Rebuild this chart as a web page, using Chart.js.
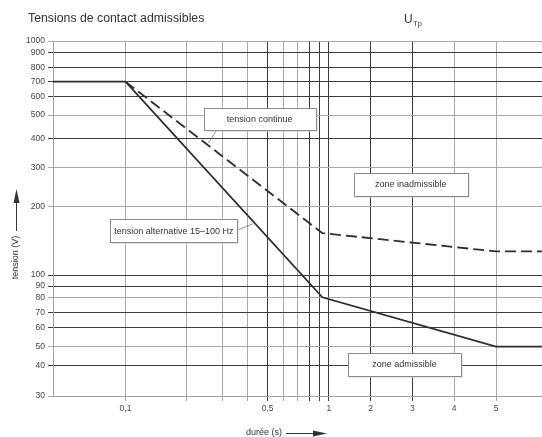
<!DOCTYPE html>
<html>
	<head>
		<title>Tensions de contact admissibles</title>
		<meta charset="utf-8"/>
		<script src="https://cdn.jsdelivr.net/npm/chart.js@4/dist/chart.umd.min.js"></script>
		<style>
			html, body { margin: 0; padding: 0; background: #fff; }
			canvas { display: block; }
		</style>
	</head>
	<body>
		<canvas id="utp_chart" width="542" height="437"></canvas>
		<script>
			// ticks
			const dureeTicks = [0.1, 0.2, 0.3, 0.4, 0.5, 0.6, 0.7, 0.8, 0.9, 1, 2, 3, 4, 5];
			const dureeLabels = { 0.1: '0,1', 0.5: '0,5', 1: '1', 2: '2', 3: '3', 4: '4', 5: '5' };
			const tensionTicks = [30, 40, 50, 60, 70, 80, 90, 100, 200, 300, 400, 500, 600, 700, 800, 900, 1000];

			// courbes
			const dureeAlternative = [0.044, 0.1, 0.93, 5, 6.1];
			const tensionAlternative = [700, 700, 80, 50, 50];
			const dureeContinue = [0.1, 0.93, 5, 6.1];
			const tensionContinue = [700, 153, 127, 127];

			// lignes foncées de la grille
			const darkX = [0.5, 0.8, 0.9, 1, 2, 3];
			const darkY = [40, 60, 70, 90, 100, 400, 600, 700, 800, 900];

			const FONT = '"Liberation Sans", Arial, sans-serif';
			const DECADE = 203;		// px par décade (0,1 .. 1)
			const UNIT = 41.75;		// px par seconde (1 .. 5)

			// hauteur relative de chaque graduation de tensionTicks (papier log imprimé, pas tout à fait régulier)
			const tensionEchelle = [0, 30.7, 49.3, 68.3, 83.3, 98.7, 110, 121, 189.3, 228.3, 257.7, 281, 299.3, 314.3, 328.7, 343.3, 355];

			// échelle mixte : log jusqu'à 1 s, linéaire après
			class DureeScale extends Chart.LinearScale
			{
				determineDataLimits()
				{
					this.min = this.options.min;
					this.max = this.options.max;
				}
				buildTicks()
				{
					return dureeTicks.map(v => ({ value: v }));
				}
				toDecimal(v)
				{
					const logPart = DECADE * Math.log10(1 / this.min);
					const total = logPart + UNIT * (this.max - 1);
					if (v <= 1) return DECADE * Math.log10(v / this.min) / total;
					return (logPart + UNIT * (v - 1)) / total;
				}
				getPixelForValue(v)
				{
					return this.getPixelForDecimal(this.toDecimal(v));
				}
				getValueForPixel(p)
				{
					const logPart = DECADE * Math.log10(1 / this.min);
					const total = logPart + UNIT * (this.max - 1);
					const d = this.getDecimalForPixel(p) * total;
					if (d <= logPart) return this.min * Math.pow(10, d / DECADE);
					return 1 + (d - logPart) / UNIT;
				}
			}
			DureeScale.id = 'duree';
			DureeScale.defaults = Chart.LinearScale.defaults;

			// échelle log interpolée entre les graduations
			class TensionScale extends Chart.LogarithmicScale
			{
				toDecimal(v)
				{
					const k = tensionTicks, p = tensionEchelle, n = k.length - 1;
					let i = 0;
					while (i < n - 1 && v > k[i + 1]) i++;
					const f = Math.log(v / k[i]) / Math.log(k[i + 1] / k[i]);
					return (p[i] + f * (p[i + 1] - p[i])) / p[n];
				}
				getPixelForValue(v)
				{
					return this.getPixelForDecimal(this.toDecimal(v));
				}
			}
			TensionScale.id = 'tension';
			TensionScale.defaults = Chart.LogarithmicScale.defaults;
			Chart.register(DureeScale, TensionScale);

			const annotations =
			[
				{ text: 'tension continue', x: 0.457, y: 481, w: 112, h: 22, from: [0.281, 433], to: [0.256, 382] },
				{ text: 'tension alternative 15\u2013100 Hz', x: 0.173, y: 157, w: 127, h: 23, from: [0.356, 158], to: [0.423, 168] },
				{ text: 'zone inadmissible', x: 2.96, y: 252, w: 114, h: 23 },
				{ text: 'zone admissible', x: 2.81, y: 40.4, w: 113, h: 23 }
			];

			const decor =
			{
				id: 'decor',
				afterDatasetsDraw(chart)
				{
					const ctx = chart.ctx;
					const xs = chart.scales.x, ys = chart.scales.y;
					ctx.save();
					for (const a of annotations)
					{
						if (a.from)
						{
							ctx.beginPath();
							ctx.moveTo(xs.getPixelForValue(a.from[0]), ys.getPixelForValue(a.from[1]));
							ctx.lineTo(xs.getPixelForValue(a.to[0]), ys.getPixelForValue(a.to[1]));
							ctx.strokeStyle = '#777';
							ctx.lineWidth = 0.8;
							ctx.stroke();
						}
						const cx = xs.getPixelForValue(a.x), cy = ys.getPixelForValue(a.y);
						const l = Math.round(cx - a.w / 2) + 0.5, t = Math.round(cy - a.h / 2) + 0.5;
						ctx.fillStyle = '#cfcfcf';
						ctx.fillRect(l + 1, t + 1, a.w, a.h);
						ctx.fillStyle = '#fff';
						ctx.fillRect(l, t, a.w, a.h);
						ctx.strokeStyle = '#8a8a8a';
						ctx.lineWidth = 1;
						ctx.strokeRect(l, t, a.w, a.h);
						ctx.fillStyle = '#333';
						ctx.font = '9px ' + FONT;
						ctx.textAlign = 'center';
						ctx.textBaseline = 'middle';
						ctx.fillText(a.text, cx, cy + 0.5);
					}
					ctx.restore();
				},
				afterDraw(chart)
				{
					const ctx = chart.ctx;
					ctx.save();
					ctx.fillStyle = '#333';
					ctx.strokeStyle = '#333';
					ctx.textBaseline = 'middle';
					ctx.textAlign = 'left';

					// titre
					ctx.font = '12.3px ' + FONT;
					ctx.fillText('Tensions de contact admissibles', 28, 19);
					ctx.font = '12px ' + FONT;
					ctx.fillText('U', 404, 20);
					const uw = ctx.measureText('U').width;
					ctx.font = '7.5px ' + FONT;
					ctx.fillText('Tp', 404 + uw + 0.5, 24);

					// axe y
					ctx.font = '9px ' + FONT;
					ctx.save();
					ctx.translate(16, 257.5);
					ctx.rotate(-Math.PI / 2);
					ctx.textAlign = 'center';
					ctx.fillText('tension (V)', 0, 0);
					ctx.restore();
					ctx.lineWidth = 1;
					ctx.beginPath();
					ctx.moveTo(16.5, 231);
					ctx.lineTo(16.5, 203);
					ctx.stroke();
					ctx.beginPath();
					ctx.moveTo(16.5, 189);
					ctx.lineTo(13.5, 203);
					ctx.lineTo(19.5, 203);
					ctx.closePath();
					ctx.fill();

					// axe x
					ctx.fillText('dur\u00e9e (s)', 246, 433);
					ctx.beginPath();
					ctx.moveTo(286, 433.5);
					ctx.lineTo(314, 433.5);
					ctx.stroke();
					ctx.beginPath();
					ctx.moveTo(327, 433.5);
					ctx.lineTo(313, 430.5);
					ctx.lineTo(313, 436.5);
					ctx.closePath();
					ctx.fill();
					ctx.restore();
				}
			};

			const ctx = document.getElementById('utp_chart').getContext('2d');
			const chart = new Chart(ctx,
			{
				type: 'line',
				data:
				{
					datasets:
					[
						{
							label: 'tension alternative 15\u2013100 Hz',
							data: dureeAlternative.map((d, i) => ({ x: d, y: tensionAlternative[i] })),
							borderColor: '#2e2e2e',
							borderWidth: 1.8,
							pointRadius: 0,
							tension: 0
						},
						{
							label: 'tension continue',
							data: dureeContinue.map((d, i) => ({ x: d, y: tensionContinue[i] })),
							borderColor: '#2e2e2e',
							borderWidth: 1.8,
							borderDash: [11, 5],
							pointRadius: 0,
							tension: 0
						}
					]
				},
				options:
				{
					responsive: false,
					animation: false,
					events: [],
					layout: { padding: { top: 41, left: 0, right: 0, bottom: 0 } },
					plugins: { legend: { display: false }, tooltip: { enabled: false } },
					scales:
					{
						x:
						{
							type: 'duree',
							min: 0.044,
							max: 6.1,
							afterFit: s => { s.height = 41; },
							ticks:
							{
								callback: v => dureeLabels[v] ?? '',
								autoSkip: false,
								maxRotation: 0,
								padding: 3,
								color: '#444',
								font: { size: 8.5, family: FONT }
							},
							grid:
							{
								color: c => darkX.includes(c.tick && c.tick.value) ? '#3c3c3c' : '#a8a8a8',
								tickLength: 5
							},
							border: { color: '#a0a0a0' }
						},
						y:
						{
							type: 'tension',
							min: 30,
							max: 1000,
							afterBuildTicks: s => { s.ticks = tensionTicks.map(v => ({ value: v })); },
							afterFit: s => { s.width = 53; },
							ticks:
							{
								callback: v => String(v),
								autoSkip: false,
								padding: 3,
								color: '#444',
								font: { size: 8.5, family: FONT }
							},
							grid:
							{
								color: c => darkY.includes(c.tick && c.tick.value) ? '#3c3c3c' : '#a8a8a8',
								tickLength: 5
							},
							border: { color: '#a0a0a0' }
						}
					}
				},
				plugins: [decor]
			});
		</script>
	</body>
</html>
